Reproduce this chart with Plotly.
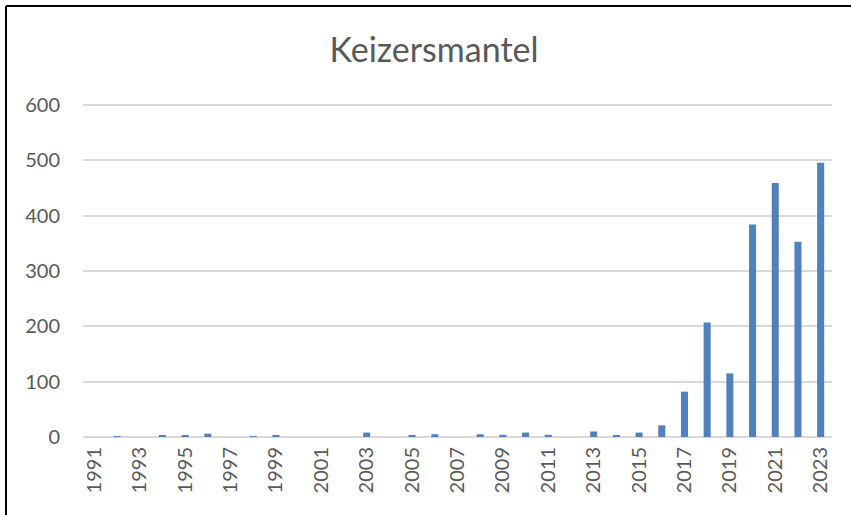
import plotly.graph_objects as go

years = [str(y) for y in range(1991, 2024)]
counts = [0, 1, 0, 3, 3, 6, 0, 1, 2, 0, 0, 0, 8, 0, 2, 5, 0, 5, 4, 8, 4, 0, 10, 2, 8, 21,
          82, 207, 115, 384, 459, 353, 496]
y_ticks = [0, 100, 200, 300, 400, 500, 600]
x_ticks = years[::2]

FONT = "Lato, 'Open Sans', sans-serif"
GREY = "#595959"

L, R, T, B = 83, 19, 104, 78
W, H = 851, 515
pw, ph = W - L - R, H - T - B

fig = go.Figure(go.Bar(x=years, y=counts, marker=dict(color="#4f81bd", line=dict(width=0))))

fig.update_layout(
    width=W, height=H,
    margin=dict(l=L, r=R, t=T, b=B),
    paper_bgcolor="white", plot_bgcolor="white",
    bargap=0.69,
    showlegend=False,
    title=dict(text="Keizersmantel", x=434 / W, xanchor="center", y=1 - 50 / H, yanchor="middle",
               font=dict(family=FONT, size=34, color=GREY)),
    font=dict(family=FONT, size=20, color=GREY),
)
fig.update_xaxes(type="category", tickvals=x_ticks, ticktext=x_ticks, tickangle=-90,
                 showgrid=False, showline=False, ticks="", ticklabelstandoff=5,
                 tickfont=dict(family=FONT, size=20, color=GREY))
fig.update_yaxes(range=[0, 602], tickvals=y_ticks, showgrid=True, gridcolor="#d9d9d9", gridwidth=1.5,
                 zeroline=True, zerolinecolor="#d9d9d9", zerolinewidth=1.5, showline=False, ticks="",
                 ticklabelstandoff=22, tickfont=dict(family=FONT, size=20, color=GREY))

# outer frame (left and top edges visible)
x_left = (6 - L) / pw
y_top = (H - B - 6) / ph
fig.add_shape(type="line", xref="paper", yref="paper", x0=x_left, x1=x_left, y0=y_top, y1=-1,
              line=dict(color="black", width=2))
fig.add_shape(type="line", xref="paper", yref="paper", x0=x_left, x1=2, y0=y_top, y1=y_top,
              line=dict(color="black", width=2))

fig.write_html("out.html", config={"displayModeBar": False},
               post_script="document.body.style.margin='0';")
